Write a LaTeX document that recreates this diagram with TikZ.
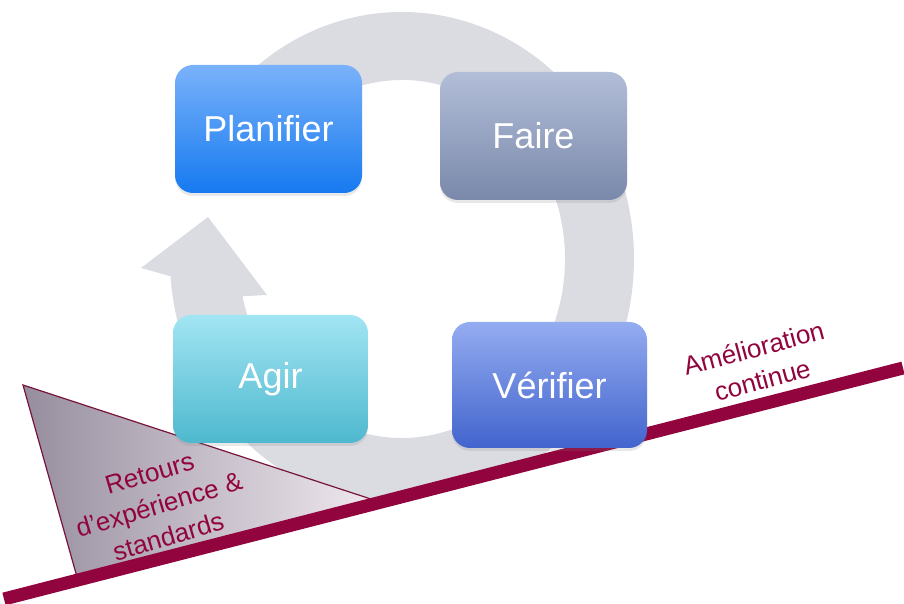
\documentclass[tikz,border=0pt]{standalone}
\usepackage{fontspec}
\setmainfont{Liberation Sans}
\usetikzlibrary{shadows}
\definecolor{ringgray}{RGB}{218,220,226}
\definecolor{crimson}{RGB}{146,4,62}
\definecolor{triedge}{RGB}{120,20,60}
\definecolor{trileft}{RGB}{150,142,158}
\definecolor{triright}{RGB}{242,234,240}
\definecolor{planT}{RGB}{122,178,250}
\definecolor{planB}{RGB}{22,122,240}
\definecolor{faireT}{RGB}{178,190,216}
\definecolor{faireB}{RGB}{122,136,170}
\definecolor{agirT}{RGB}{162,229,243}
\definecolor{agirB}{RGB}{78,184,206}
\definecolor{verT}{RGB}{148,172,240}
\definecolor{verB}{RGB}{66,100,205}
\tikzset{
  pdcabox/.style={rounded corners=18pt, inner sep=0pt, text=white,
    font=\fontsize{36}{40}\selectfont,
    drop shadow={opacity=0.18, shadow xshift=0pt, shadow yshift=-3pt}},
  redtext/.style={text=crimson, font=\fontsize{26}{33}\selectfont, align=center, inner sep=0pt},
}
\begin{document}
\begin{tikzpicture}[x=1pt,y=1pt]
\useasboundingbox (0,0) rectangle (904,604);
% circular arrow
\begin{scope}
\clip (0,6) -- (904,237) -- (904,604) -- (0,604) -- cycle;
\fill[ringgray] ([shift={(402,345)}]130:232 and 247)
  arc[start angle=130, end angle=-176, x radius=232, y radius=247]
  -- (141,336) -- (208,387) -- (267,309)
  -- ([shift={(402,345)}]-168:163 and 179)
  arc[start angle=-168, end angle=130, x radius=163, y radius=179] -- cycle;
\end{scope}
% triangle
\shadedraw[left color=trileft, right color=triright, draw=triedge, line width=1.2pt]
  (23,219) -- (77,27) -- (380,102) -- cycle;
% improvement line
\coordinate (L0) at (4,5);
\coordinate (L1) at (903,236);
\draw[crimson, line width=13pt] (L0) -- (L1);
% boxes
\node[pdcabox, minimum width=187pt, minimum height=128pt, top color=planT, bottom color=planB] (plan) at (268.5,475) {Planifier};
\node[pdcabox, minimum width=187pt, minimum height=128pt, top color=faireT, bottom color=faireB] (faire) at (533.5,468) {Faire};
\node[pdcabox, minimum width=195pt, minimum height=128pt, top color=agirT, bottom color=agirB] (agir) at (270.5,225) {Agir};
\node[pdcabox, minimum width=195pt, minimum height=126pt, top color=verT, bottom color=verB] (verif) at (549.5,219) {Vérifier};
% labels
\node[redtext, rotate=16.5] (retours) at (159,99) {Retours\\d’expérience \&\\standards};
\node[redtext, rotate=15] (amelio) at (758,240) {Amélioration\\continue};
\end{tikzpicture}
\end{document}
